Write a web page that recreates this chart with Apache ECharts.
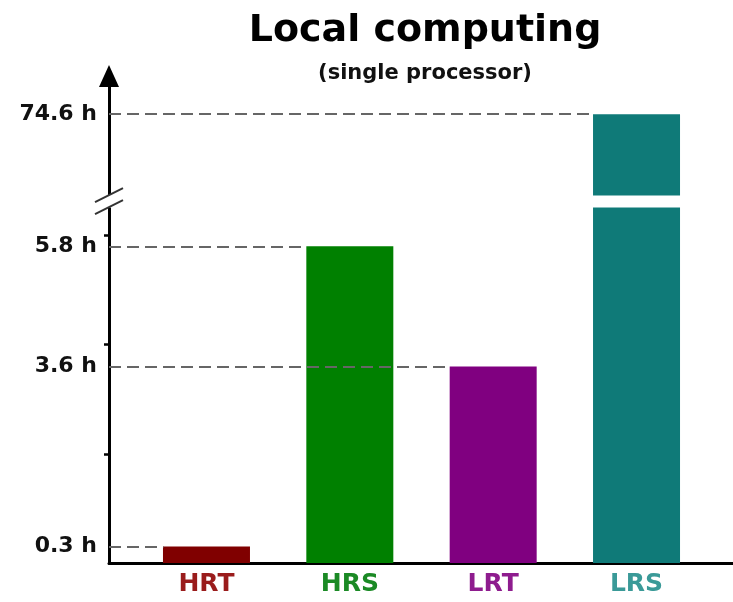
<!DOCTYPE html>
<html>
<head>
<meta charset="utf-8">
<script src="https://cdn.jsdelivr.net/npm/echarts@6/dist/echarts.min.js"></script>
<style>
  html, body { margin: 0; padding: 0; background: #fff; }
  #chart { width: 733px; height: 602px; }
</style>
</head>
<body>
<div id="chart"></div>
<script>
// runs: time in hours per case
const categories = ["HRT", "HRS", "LRT", "LRS"];
const hours = [0.3, 5.8, 3.6, 74.6];
const barColors = ["#800000", "#008000", "#800080", "#0f7a78"];
const labelColors = ["#9a1c1c", "#1b8a25", "#8e1c8e", "#3a9a98"];
const yLabelValues = [0.3, 3.6, 5.8, 74.6];
const yTickValues = [2, 4, 6];
// axis break between the short runs and the long one
const breakStart = 6.52;
const breakEnd = 73.12;

const xMin = -0.68;
const xMax = 3.673;
const halfBar = 0.30; // half the bar width in x units, dashed lines stop there
const font = "DejaVu Sans";

const chart = echarts.init(document.getElementById("chart"));

const rich = {};
categories.forEach((c, i) => {
  rich["c" + i] = { color: labelColors[i], fontFamily: font, fontWeight: "bold", fontSize: 25 };
});

const option = {
  animation: false,
  title: {
    text: "Local computing",
    subtext: "(single processor)",
    left: 420,
    top: 7,
    textAlign: "center",
    itemGap: 13,
    textStyle: { fontFamily: font, fontWeight: "bold", fontSize: 38, color: "#000" },
    subtextStyle: { fontFamily: font, fontWeight: "bold", fontSize: 21, color: "#111" },
  },
  grid: { left: 109, right: 0, top: 76, bottom: 39 },
  xAxis: {
    type: "value",
    min: xMin,
    max: xMax,
    splitLine: { show: false },
    axisTick: { show: false },
    axisLine: { show: true, lineStyle: { color: "#000", width: 3 } },
    axisLabel: {
      customValues: [0, 1, 2, 3],
      margin: 9,
      formatter: (v) => {
        const i = Math.round(v);
        return "{c" + i + "|" + categories[i] + "}";
      },
      rich: rich,
    },
  },
  yAxis: {
    type: "value",
    min: 0,
    max: 75.3,
    breaks: [{ start: breakStart, end: breakEnd, gap: 0.22 }],
    breakArea: {
      show: true,
      itemStyle: { color: "#fff", borderWidth: 0, opacity: 1 },
      zigzagAmplitude: 0,
      expandOnClick: false,
    },
    splitLine: { show: false },
    axisLine: {
      show: true,
      onZero: false,
      symbol: ["none", "triangle"],
      symbolSize: [20, 22],
      lineStyle: { color: "#000", width: 3 },
    },
    axisTick: {
      show: true,
      customValues: yTickValues,
      length: 5,
      lineStyle: { color: "#000", width: 2.5 },
    },
    axisLabel: {
      customValues: yLabelValues,
      margin: 12,
      padding: [5, 0, 0, 0],
      color: "#111",
      fontFamily: font,
      fontWeight: "bold",
      fontSize: 22,
      formatter: (v) => v + " h",
    },
  },
  series: [
    {
      type: "bar",
      barWidth: 87,
      data: hours.map((h, i) => ({ value: [i, h], itemStyle: { color: barColors[i] } })),
      markLine: {
        silent: true,
        symbol: ["none", "none"],
        label: { show: false },
        lineStyle: { color: "#666", width: 2, type: [12, 6] },
        data: hours.map((h, i) => [{ coord: [xMin, h] }, { coord: [i - halfBar, h] }]),
      },
    },
  ],
};

chart.setOption(option);

// gap in the y axis line and its "//" mark
const pTop = chart.convertToPixel({ gridIndex: 0 }, [xMin, breakEnd]);
const pBot = chart.convertToPixel({ gridIndex: 0 }, [xMin, breakStart]);
const slash = (x, y) => ({
  type: "line",
  z: 200,
  shape: { x1: x - 14, y1: y + 7, x2: x + 14, y2: y - 7 },
  style: { stroke: "#333", lineWidth: 2 },
});
chart.setOption({
  graphic: [
    {
      type: "rect",
      z: 150,
      shape: { x: pTop[0] - 5, y: pTop[1], width: 10, height: pBot[1] - pTop[1] },
      style: { fill: "#fff" },
    },
    slash(pTop[0], pTop[1]),
    slash(pBot[0], pBot[1]),
  ],
});
</script>
</body>
</html>
